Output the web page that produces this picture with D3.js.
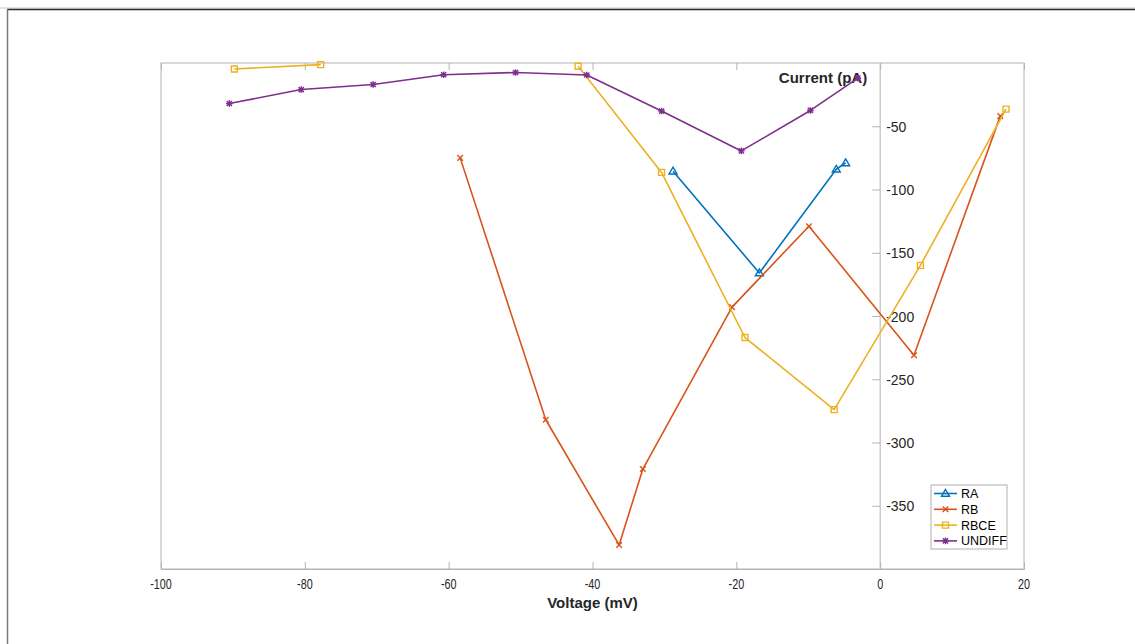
<!DOCTYPE html>
<html>
<head>
<meta charset="utf-8">
<script src="https://cdn.jsdelivr.net/npm/d3@7"></script>
<style>
  html, body { margin: 0; padding: 0; background: #fff; }
  svg { display: block; font-family: "Liberation Sans", Arial, Helvetica, sans-serif; }
</style>
</head>
<body>
<svg id="chart" width="1135" height="644"></svg>
<script>
// ==================== DATA ====================
const seriesNames = ["RA", "RB", "RBCE", "UNDIFF"];
const seriesColors = ["#0072BD", "#D95319", "#EDB120", "#7E2F8E"];
const seriesMarkers = ["triangle", "cross", "square", "star"];

// voltage (mV) / current (pA); null = gap in the line
const raV = [-28.8, -16.8, -6.1, -4.8];
const raI = [-85.5, -166, -84, -79];

const rbV = [-58.4, -46.5, -36.3, -33.0, -20.6, -9.9, 4.7, 16.7];
const rbI = [-75, -282, -381, -321, -193, -129, -231, -42];

const rbceV = [-89.8, -77.8, null, -42.0, -30.4, -18.8, -6.4, 5.6, 17.5];
const rbceI = [-4.7, -1.3, null, -2.6, -86.5, -217, -274, -160, -36.5];

const undiffV = [-90.5, -80.5, -70.5, -60.7, -50.7, -40.8, -30.4, -19.3, -9.7, -3.1];
const undiffI = [-32, -21, -17, -9.3, -7.5, -9.5, -38, -69.5, -37.5, -12];

const xTicks = [-100, -80, -60, -40, -20, 0, 20];
const yTicks = [-350, -300, -250, -200, -150, -100, -50];

const allSeries = [[raV, raI], [rbV, rbI], [rbceV, rbceI], [undiffV, undiffI]];

// ==================== SETUP ====================
const svg = d3.select("#chart");
const plotL = 161, plotR = 1024, plotT = 63, plotB = 569;
const axisGray = "#b4b4b4";
const textCol = "#262626";

const x = d3.scaleLinear().domain([-100, 20]).range([plotL, plotR]);
const y = d3.scaleLinear().domain([-400, 0]).range([plotB, plotT]);

// window frame lines
svg.append("line").attr("x1", 0).attr("x2", 1135).attr("y1", 8).attr("y2", 8)
    .attr("stroke", "#c8c8c8").attr("stroke-width", 1);
svg.append("line").attr("x1", 7).attr("x2", 1135).attr("y1", 9.5).attr("y2", 9.5)
    .attr("stroke", "#2a2a2a").attr("stroke-width", 1.5);
svg.append("line").attr("x1", 7.5).attr("x2", 7.5).attr("y1", 9).attr("y2", 644)
    .attr("stroke", "#7a7a7a").attr("stroke-width", 1.5);

// ==================== AXES ====================
// box
svg.append("rect").attr("x", plotL).attr("y", plotT)
    .attr("width", plotR - plotL).attr("height", plotB - plotT)
    .attr("fill", "none").attr("stroke", axisGray).attr("stroke-width", 1);

// bottom x axis
const xAxis = svg.append("g").attr("transform", `translate(0,${plotB})`)
    .call(d3.axisBottom(x).tickValues(xTicks).tickSize(-7).tickFormat(""));
xAxis.select(".domain").attr("stroke", axisGray);
xAxis.selectAll(".tick line").attr("stroke", axisGray);

// top mirror ticks
const xTop = svg.append("g").attr("transform", `translate(0,${plotT})`)
    .call(d3.axisTop(x).tickValues(xTicks).tickSize(-7).tickFormat(""));
xTop.select(".domain").attr("stroke", "none");
xTop.selectAll(".tick line").attr("stroke", axisGray);

// x tick labels (narrow look)
svg.append("g").selectAll("g")
    .data(xTicks)
    .join("g")
    .attr("transform", d => `translate(${x(d)},${plotB + 20})`)
    .append("text")
    .attr("transform", "scale(0.72,1)")
    .attr("text-anchor", "middle")
    .attr("font-size", 15)
    .attr("fill", textCol)
    .text(d => d);

// y axis at origin
const yAxis = svg.append("g").attr("transform", `translate(${x(0)},0)`)
    .call(d3.axisLeft(y).tickValues(yTicks).tickSize(8).tickFormat(""));
yAxis.select(".domain").attr("stroke", axisGray).attr("d", `M0,${plotT}V${plotB}`);
yAxis.selectAll(".tick line").attr("stroke", axisGray);

svg.append("g").selectAll("text")
    .data(yTicks)
    .join("text")
    .attr("x", x(0) + 6)
    .attr("y", d => y(d) + 5.5)
    .attr("font-size", 14)
    .attr("fill", textCol)
    .text(d => d);

// axis labels
svg.append("text")
    .attr("x", x(0) - 13).attr("y", 83)
    .attr("text-anchor", "end")
    .attr("font-size", 15).attr("font-weight", "bold")
    .attr("fill", textCol)
    .text("Current (pA)");

svg.append("text")
    .attr("x", (plotL + plotR) / 2).attr("y", 608)
    .attr("text-anchor", "middle")
    .attr("font-size", 15).attr("font-weight", "bold")
    .attr("fill", textCol)
    .text("Voltage (mV)");

// ==================== MARKERS ====================
function markerPath(type, cx, cy){
    if(type === "triangle"){
        const r = 4;
        return `M${cx},${cy - r}L${cx + r},${cy + r * 0.7}L${cx - r},${cy + r * 0.7}Z`;
    }
    if(type === "cross"){
        const r = 2.8;
        return `M${cx - r},${cy - r}L${cx + r},${cy + r}M${cx - r},${cy + r}L${cx + r},${cy - r}`;
    }
    if(type === "square"){
        const r = 3;
        return `M${cx - r},${cy - r}h${2 * r}v${2 * r}h${-2 * r}Z`;
    }
    // star / asterisk
    const r = 3.3, d = 2.6;
    return `M${cx - r},${cy}H${cx + r}M${cx},${cy - r}V${cy + r}` +
           `M${cx - d},${cy - d}L${cx + d},${cy + d}M${cx - d},${cy + d}L${cx + d},${cy - d}`;
}

// ==================== LINES ====================
const line = d3.line()
    .defined(d => d.v !== null && d.i !== null)
    .x(d => x(d.v))
    .y(d => y(d.i));

allSeries.forEach(([vs, is], k) => {
    const pts = vs.map((v, j) => ({v: v, i: is[j]}));
    const g = svg.append("g");
    g.append("path")
        .datum(pts)
        .attr("fill", "none")
        .attr("stroke", seriesColors[k])
        .attr("stroke-width", 1.6)
        .attr("stroke-linejoin", "round")
        .attr("d", line);
    g.selectAll("path.mk")
        .data(pts.filter(p => p.v !== null))
        .join("path")
        .attr("class", "mk")
        .attr("fill", "none")
        .attr("stroke", seriesColors[k])
        .attr("stroke-width", 1.4)
        .attr("d", p => markerPath(seriesMarkers[k], x(p.v), y(p.i)));
});

// ==================== LEGEND ====================
const lg = svg.append("g").attr("transform", "translate(931,485)");
lg.append("rect").attr("width", 76).attr("height", 64)
    .attr("fill", "#fff").attr("stroke", "#b0b0b0").attr("stroke-width", 1);

seriesNames.forEach((name, k) => {
    const yy = 8.5 + k * 15.8;
    lg.append("line").attr("x1", 3).attr("x2", 26).attr("y1", yy).attr("y2", yy)
        .attr("stroke", seriesColors[k]).attr("stroke-width", 1.6);
    lg.append("path")
        .attr("fill", "none").attr("stroke", seriesColors[k]).attr("stroke-width", 1.4)
        .attr("d", markerPath(seriesMarkers[k], 14.5, yy));
    lg.append("text")
        .attr("x", 30).attr("y", yy + 4.5)
        .attr("font-size", 12.5)
        .attr("fill", "#000")
        .text(name);
});
</script>
</body>
</html>
